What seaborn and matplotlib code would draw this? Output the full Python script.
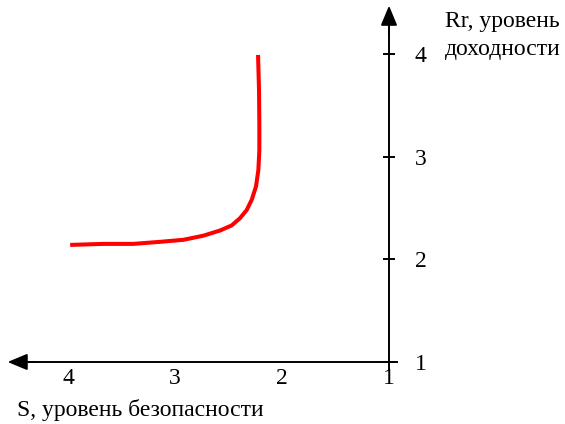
import matplotlib
matplotlib.use("Agg")
import matplotlib.pyplot as plt
import seaborn as sns
import pandas as pd

# Data
security = [3.98, 3.67, 3.39, 3.14, 2.92, 2.735, 2.58, 2.47, 2.393, 2.33, 2.283, 2.243,
            2.221, 2.212, 2.212, 2.215, 2.224]
returns = [2.14, 2.15, 2.15, 2.17, 2.19, 2.23, 2.28, 2.33, 2.40, 2.48, 2.58, 2.71,
           2.87, 3.06, 3.32, 3.65, 3.99]
x_ticks = [4, 3, 2, 1]
y_ticks = [1, 2, 3, 4]
x_title = "S, уровень безопасности"
y_title_lines = ["Rr, уровень", "доходности"]

sns.set_style("white")
plt.rcParams["font.family"] = ["Liberation Serif", "DejaVu Serif"]
plt.rcParams["text.color"] = "black"
plt.rcParams["xtick.color"] = "black"
plt.rcParams["ytick.color"] = "black"

fig = plt.figure(figsize=(5.65, 4.24), dpi=100)
ax = fig.add_axes([0, 0, 1, 1])

df = pd.DataFrame({"S": security, "Rr": returns})
sns.lineplot(data=df, x="S", y="Rr", sort=False, estimator=None,
             color="#ff0000", linewidth=2.9, ax=ax)
for ln in ax.get_lines():
    ln.set_solid_joinstyle("round")
    ln.set_solid_capstyle("butt")

ax.set_xlim(4.636, -0.645)
ax.set_ylim(0.396, 4.525)

for s in ["top", "left"]:
    ax.spines[s].set_visible(False)
ax.spines["bottom"].set_position(("data", 1))
ax.spines["right"].set_position(("data", 1))
ax.spines["bottom"].set_bounds(0.925, 4.45)
ax.spines["right"].set_bounds(0.92, 4.35)
for s in ["bottom", "right"]:
    ax.spines[s].set_color("black")
    ax.spines[s].set_linewidth(1.4)

ax.yaxis.tick_right()
ax.set_xticks(x_ticks)
ax.set_xticklabels([str(t) for t in x_ticks])
ax.set_yticks(y_ticks)
ax.set_yticklabels([str(t) for t in y_ticks])
ax.tick_params(axis="both", direction="inout", length=9, width=1.4,
               color="black", labelcolor="black", labelsize=17)
ax.tick_params(axis="x", pad=0)
ax.tick_params(axis="y", pad=14)
ax.set_xlabel("")
ax.set_ylabel("")

arrow = dict(arrowstyle="-|>,head_length=1.2,head_width=0.5", color="black",
             lw=1.4, mutation_scale=10, shrinkA=0, shrinkB=0)
ax.annotate("", xy=(4.565, 1), xytext=(4.3, 1), arrowprops=arrow)
ax.annotate("", xy=(1, 4.47), xytext=(1, 4.2), arrowprops=arrow)

fig.text(17 / 565, 1 - 410 / 424, x_title, fontsize=17, ha="left", va="center", color="black")
fig.text(445 / 565, 1 - 21 / 424, y_title_lines[0], fontsize=17, ha="left", va="center", color="black")
fig.text(445 / 565, 1 - 50 / 424, y_title_lines[1], fontsize=17, ha="left", va="center", color="black")

fig.savefig("out.png", dpi=100)
